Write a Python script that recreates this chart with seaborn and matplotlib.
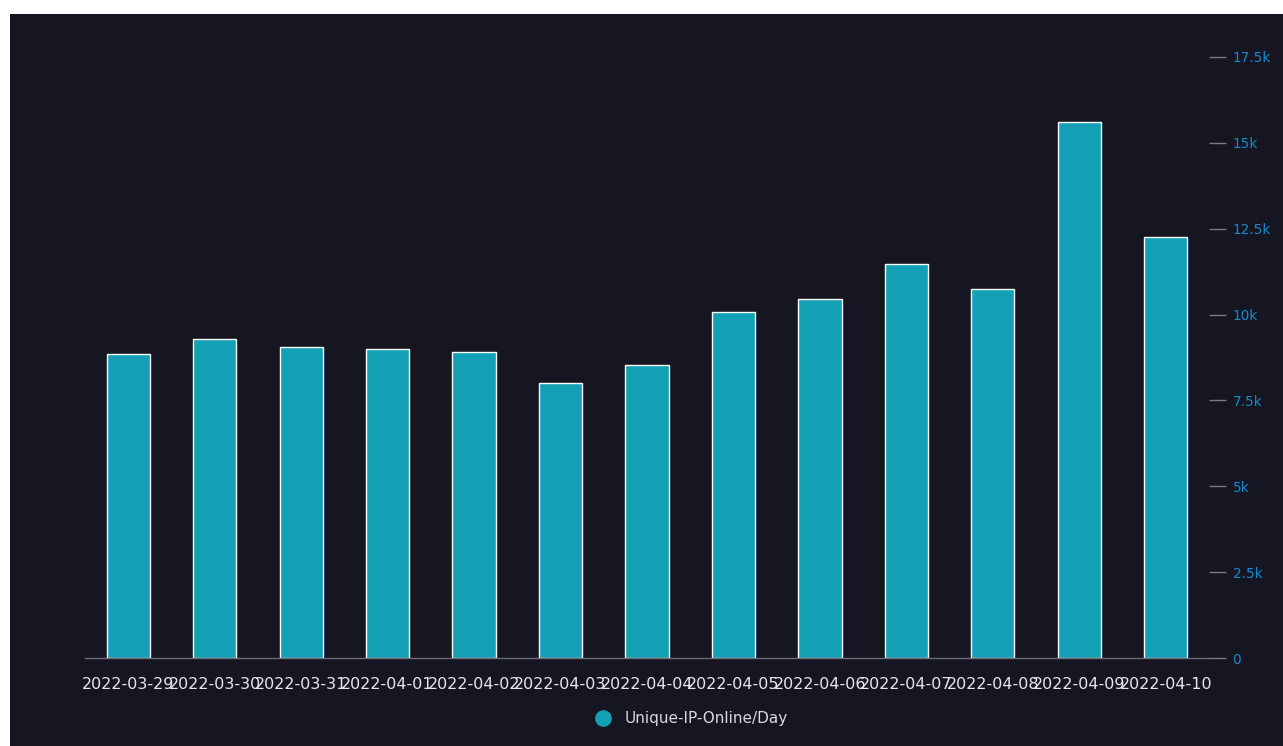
import pandas as pd
import matplotlib
matplotlib.use("Agg")
import matplotlib.pyplot as plt
from matplotlib.patches import Rectangle
from matplotlib.lines import Line2D
from matplotlib.ticker import FuncFormatter
import seaborn as sns

# ---------------------------
# Data
# ---------------------------

dates = [
    "2022-03-29", "2022-03-30", "2022-03-31", "2022-04-01", "2022-04-02",
    "2022-04-03", "2022-04-04", "2022-04-05", "2022-04-06", "2022-04-07",
    "2022-04-08", "2022-04-09", "2022-04-10",
]
unique_ip = [
    8840, 9280, 9070, 8990, 8910,
    8020, 8540, 10070, 10440, 11460,
    10740, 15610, 12260,
]
series_name = "Unique-IP-Online/Day"
y_ticks = [0, 2500, 5000, 7500, 10000, 12500, 15000, 17500]

df = pd.DataFrame({"date": dates, "value": unique_ip})

# ---------------------------
# Style
# ---------------------------

BG = "#161622"
BAR = "#13a0b4"
TICK_BLUE = "#1589cc"

sns.set_style("dark")
plt.rcParams['font.family'] = ['DejaVu Sans']

fig = plt.figure(figsize=(12.83, 7.46), dpi=100)
fig.patch.set_facecolor("white")
# dark panel (white strip on left/top as in the screenshot)
fig.patches.append(Rectangle((10 / 1283, 0), 1 - 10 / 1283, 1 - 14 / 746,
                             transform=fig.transFigure, facecolor=BG,
                             edgecolor="none", zorder=-10))

ax = fig.add_axes([85 / 1283, (746 - 658) / 746, 1124 / 1283, 601 / 746])
ax.set_facecolor(BG)

sns.barplot(data=df, x="date", y="value", color=BAR, width=0.5,
            edgecolor="white", linewidth=1, saturation=1, ax=ax)

ax.set_ylim(0, 17500)
ax.set_xlim(-0.5, len(dates) - 0.5)
ax.set_xlabel("")
ax.set_ylabel("")
ax.grid(False)

for side in ["top", "right", "left"]:
    ax.spines[side].set_visible(False)
ax.spines["bottom"].set_color("#6b6b75")
ax.spines["bottom"].set_linewidth(1)

ax.yaxis.tick_right()
ax.set_yticks(y_ticks)
ax.yaxis.set_major_formatter(FuncFormatter(
    lambda v, p: "0" if v == 0 else (f"{v/1000:g}k")))
ax.tick_params(axis="y", which="both", right=True, length=12, width=1,
               color="#7a7a80", labelcolor=TICK_BLUE, labelsize=9.8, pad=5)
ax.tick_params(axis="x", bottom=False, labelcolor="#e6e6ea",
               labelsize=11.5, pad=10)

# legend
handle = Line2D([], [], marker="o", linestyle="none", markersize=11,
                markerfacecolor=BAR, markeredgecolor=BAR)
leg = fig.legend([handle], [series_name], loc="center",
                 bbox_to_anchor=(688 / 1283, (746 - 719) / 746),
                 frameon=False, fontsize=11, handletextpad=0.4,
                 labelcolor="#d8d8de")
for t in leg.get_texts():
    t.set_fontweight("medium")

plt.savefig("out.png", dpi=100, facecolor=fig.get_facecolor())
